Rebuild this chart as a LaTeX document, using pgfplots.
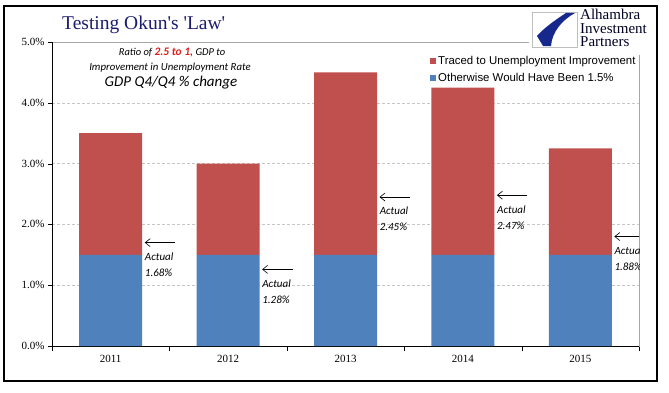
\documentclass[border=0pt]{standalone}
\usepackage{pgfplots}
\pgfplotsset{compat=1.18}
\usepackage{fontspec}
\setmainfont{Liberation Serif}
\newfontfamily\titlefont[Ligatures=TeXOff]{Liberation Serif}
\newfontfamily\arial{Liberation Sans}
\newfontfamily\calibri{Carlito}
\usetikzlibrary{arrows.meta}
\definecolor{barred}{RGB}{192,80,77}
\definecolor{barblue}{RGB}{79,129,189}
\definecolor{titleblue}{RGB}{28,28,110}
\definecolor{logoblue}{RGB}{22,40,140}
\definecolor{ratiored}{RGB}{220,30,30}
\begin{document}
\begin{tikzpicture}[x=1pt,y=1pt]
\useasboundingbox (0pt,0pt) rectangle (669pt,392pt);
\begin{axis}[
  at={(52pt,46pt)}, anchor=south west,
  scale only axis, width=587pt, height=304pt,
  xmin=-0.5, xmax=4.5, ymin=0, ymax=5,
  ybar stacked, bar width=63pt,
  xtick={0,1,2,3,4}, xticklabels={2011,2012,2013,2014,2015},
  major x tick style={draw=none},
  minor xtick={-0.5,0.5,1.5,2.5,3.5,4.5},
  minor x tick style={black},
  ytick={0,1,2,3,4,5},
  yticklabel={\pgfmathprintnumber[fixed,fixed zerofill,precision=1]{\tick}\%},
  /pgf/number format/assume math mode=true,
  tick align=outside, tick pos=left,
  major tick length=4pt, minor tick length=5pt,
  tick style={black},
  ymajorgrids, grid style={densely dashed, gray!45},
  axis line style={gray!70},
  ticklabel style={font=\fontsize{11}{13}\selectfont},
  xticklabel style={yshift=-2pt},
  legend style={at={(rel axis cs:0.644,0.962)}, anchor=north west, draw=none, fill=none,
    font=\arial\fontsize{11.4}{13}\selectfont, row sep=4pt, inner sep=0pt},
  legend cell align=left, reverse legend,
  legend image code/.code={\fill[#1] (0pt,-3pt) rectangle (6pt,3pt);},
]
\addplot[fill=barblue, draw=none] coordinates {(0,1.5) (1,1.5) (2,1.5) (3,1.5) (4,1.5)};
\addlegendentry{Otherwise Would Have Been 1.5\%}
\addplot[fill=barred, draw=none] coordinates {(0,2.0) (1,1.5) (2,3.0) (3,2.75) (4,1.75)};
\addlegendentry{Traced to Unemployment Improvement}
\draw[black] (rel axis cs:0,0) -- (rel axis cs:0,1);
\draw[black] (rel axis cs:0,0) -- (rel axis cs:1,0);
% arrows and notes
\draw[semithick, -{Straight Barb[length=5pt,width=8pt]}] (axis cs:0.55,1.70) -- (axis cs:0.29,1.70);
\node[anchor=north west, inner sep=0pt, align=left, font=\calibri\itshape\fontsize{11}{16}\selectfont] at (axis cs:0.29,1.70) [yshift=-10pt] {Actual\\1.68\%};
\draw[semithick, -{Straight Barb[length=5pt,width=8pt]}] (axis cs:1.55,1.26) -- (axis cs:1.29,1.26);
\node[anchor=north west, inner sep=0pt, align=left, font=\calibri\itshape\fontsize{11}{16}\selectfont] at (axis cs:1.29,1.26) [yshift=-10pt] {Actual\\1.28\%};
\draw[semithick, -{Straight Barb[length=5pt,width=8pt]}] (axis cs:2.55,2.45) -- (axis cs:2.29,2.45);
\node[anchor=north west, inner sep=0pt, align=left, font=\calibri\itshape\fontsize{11}{16}\selectfont] at (axis cs:2.29,2.45) [yshift=-10pt] {Actual\\2.45\%};
\draw[semithick, -{Straight Barb[length=5pt,width=8pt]}] (axis cs:3.55,2.48) -- (axis cs:3.29,2.48);
\node[anchor=north west, inner sep=0pt, align=left, font=\calibri\itshape\fontsize{11}{16}\selectfont] at (axis cs:3.29,2.48) [yshift=-10pt] {Actual\\2.47\%};
\draw[semithick, -{Straight Barb[length=5pt,width=8pt]}] (axis cs:4.55,1.80) -- (axis cs:4.29,1.80);
\node[anchor=north west, inner sep=0pt, align=left, font=\calibri\itshape\fontsize{11}{16}\selectfont] at (axis cs:4.29,1.80) [yshift=-10pt] {Actual\\1.88\%};
\end{axis}
% title
\node[anchor=west, inner sep=0pt, text=titleblue, font=\titlefont\fontsize{19.5}{22}\selectfont] at (62pt,367pt) {Testing Okun's 'Law'};
% ratio note
\node[inner sep=0pt, font=\calibri\itshape\fontsize{10.5}{12}\selectfont] at (172pt,339pt) {Ratio of \textcolor{ratiored}{\bfseries\fontsize{11.5}{12}\selectfont 2.5 to 1,} GDP to};
\node[inner sep=0pt, font=\calibri\itshape\fontsize{10.8}{12}\selectfont] at (170pt,324pt) {Improvement in Unemployment Rate};
\node[inner sep=0pt, font=\calibri\itshape\fontsize{15}{17}\selectfont] at (171pt,309pt) {GDP Q4/Q4 \% change};
% logo
\fill[white] (529pt,337pt) rectangle (662pt,386pt);
\draw[gray!50, fill=white] (532pt,345pt) rectangle (577pt,380pt);
\fill[logoblue] (575pt,379pt) -- (566pt,379pt) .. controls (552pt,370pt) and (542pt,362pt) .. (537pt,356pt) -- (543pt,346pt) -- (551pt,346pt) .. controls (552pt,360pt) and (562pt,372pt) .. (575pt,379pt) -- cycle;
\node[anchor=base west, inner sep=0pt, align=left, text=black!85!blue, font=\fontsize{15}{13.5}\selectfont] at (580pt,345pt) {Alhambra\\Investment\\Partners};
% frame
\draw[black, line width=1.2pt] (4pt,11pt) rectangle (657pt,386pt);
\end{tikzpicture}
\end{document}
